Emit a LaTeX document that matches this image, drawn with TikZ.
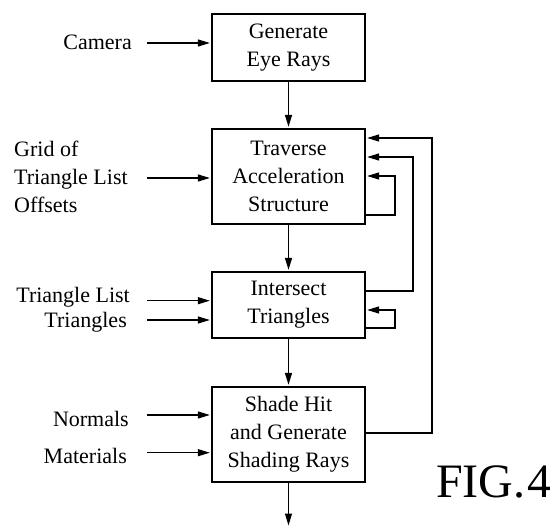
\documentclass[tikz,border=0pt]{standalone}
\usepackage{fontspec}
\setmainfont{Liberation Serif}
\usetikzlibrary{arrows.meta}
\begin{document}
\begin{tikzpicture}[x=1pt,y=-1pt,
  every node/.style={font=\fontsize{22}{28}\selectfont},
  blk/.style={draw, line width=1.3pt, minimum width=153pt, align=center, inner sep=0pt},
  lbl/.style={inner sep=0pt},
  arr/.style={line width=1.3pt, shorten >=1.5pt, -{Triangle[length=12pt,width=7pt]}},
  wire/.style={line width=1.3pt}]
\useasboundingbox (0,0) rectangle (550,527);

% processing stages
\node[blk, minimum height=67pt] (gen)   at (288.5,47.5)  {Generate\\Eye Rays};
\node[blk, minimum height=95pt] (trav)  at (288.5,176.5) {Traverse\\Acceleration\\Structure};
\node[blk, minimum height=66pt] (isect) at (288.5,305)   {Intersect\\Triangles};
\node[blk, minimum height=95pt] (shade) at (288.5,434.5) {Shade Hit\\and Generate\\Shading Rays};

% input labels
\node[lbl, anchor=base east] (cam) at (132,50) {Camera};
\node[lbl, anchor=base west] (grid1) at (14,157) {Grid of};
\node[lbl, anchor=base west] (grid2) at (14,185) {Triangle List};
\node[lbl, anchor=base west] (grid3) at (14,212) {Offsets};
\node[lbl, anchor=base east] (tlist) at (130,302) {Triangle List};
\node[lbl, anchor=base east] (tris)  at (127,327) {Triangles};
\node[lbl, anchor=base east] (norm)  at (129,426) {Normals};
\node[lbl, anchor=base east] (mat)   at (127,463) {Materials};

% input wire starts
\coordinate (iCam)  at (147,43);
\coordinate (iGrid) at (147,178);
\coordinate (iTL)   at (147,300.7);
\coordinate (iTri)  at (147,320);
\coordinate (iNorm) at (147,415);
\coordinate (iMat)  at (147,452.7);

\draw[arr] (iCam)  -- (iCam -| gen.west);
\draw[arr] (iGrid) -- (iGrid -| trav.west);
\draw[arr] (iTL)   -- (iTL -| isect.west);
\draw[arr] (iTri)  -- (iTri -| isect.west);
\draw[arr] (iNorm) -- (iNorm -| shade.west);
\draw[arr] (iMat)  -- (iMat -| shade.west);

% main flow
\coordinate (out) at (288.5,527);
\draw[arr] (gen.south) -- (trav.north);
\draw[arr] (trav.south) -- (isect.north);
\draw[arr] (isect.south) -- (shade.north);
\draw[arr] (shade.south) -- (out);

% feedback loops
\coordinate (tA) at (395,215);
\coordinate (tB) at (395,176);
\draw[arr] (tA -| trav.east) -- (tA) -- (tB) -- (tB -| trav.east);

\coordinate (iA) at (395,328);
\coordinate (iB) at (395,310);
\draw[arr] (iA -| isect.east) -- (iA) -- (iB) -- (iB -| isect.east);

\coordinate (rA) at (413,291);
\coordinate (rB) at (413,157);
\draw[arr] (rA -| isect.east) -- (rA) -- (rB) -- (rB -| trav.east);

\coordinate (sA) at (432,433);
\coordinate (sB) at (432,138);
\draw[arr] (sA -| shade.east) -- (sA) -- (sB) -- (sB -| trav.east);

% figure caption
\node[lbl, anchor=base west, font=\fontsize{48}{52}\selectfont] (fig) at (436,497) {FIG.\kern2pt4};
\end{tikzpicture}
\end{document}
